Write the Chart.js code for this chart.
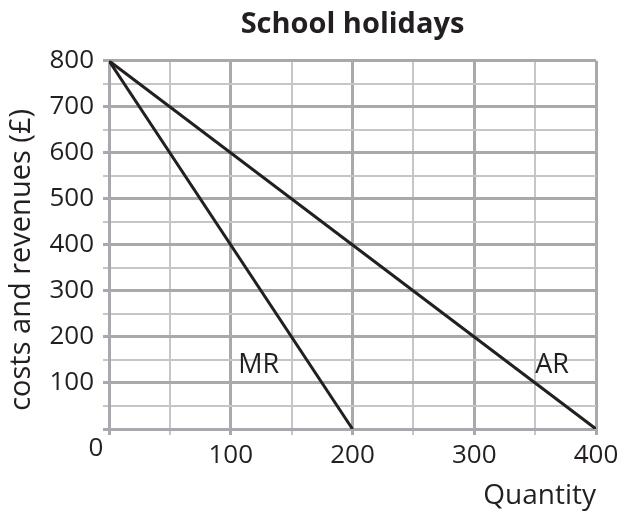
<!DOCTYPE html>
<html>
<head>
<meta charset="utf-8">
<script src="https://cdn.jsdelivr.net/npm/chart.js@4"></script>
<style>
  html, body { margin: 0; padding: 0; background: #fff; }
  #wrap { width: 624px; height: 517px; }
</style>
</head>
<body>
<div id="wrap"><canvas id="chart" width="624" height="517"></canvas></div>
<script>
// data
const quantity = [0, 400];
const arValues = [800, 0];
const mrQuantity = [0, 200];
const mrValues = [800, 0];

const curveNames = ['MR', 'AR'];
const curveNameX = [123, 364];
const curveNameY = [138, 138];

const yTitle = 'costs and revenues (£)';

const FONT = "'Open Sans', 'Noto Sans', sans-serif";
const INK = '#231f20';
const MAJOR = '#a7a9ac';
const MINOR = '#c4c6c8';

const isMajor = v => v % 100 === 0;
const tickLabel = v => (isMajor(v) && v !== 0) ? v : '';

// extra text: curve names, the corner zero and the y axis title
const textPlugin = {
    id: 'curveText',
    afterDatasetsDraw(chart) {
        const { ctx, scales, chartArea } = chart;
        ctx.save();
        ctx.fillStyle = INK;
        ctx.textAlign = 'center';
        ctx.textBaseline = 'middle';
        ctx.font = '27px ' + FONT;
        curveNames.forEach((name, i) => {
            ctx.fillText(name, scales.x.getPixelForValue(curveNameX[i]), scales.y.getPixelForValue(curveNameY[i]));
        });
        ctx.font = '26px ' + FONT;
        ctx.fillText('0', chartArea.left - 13, chartArea.bottom + 20);

        // y title sits a little below the middle of the axis
        ctx.font = '29px ' + FONT;
        ctx.translate(22, (chartArea.top + chartArea.bottom) / 2 + 15);
        ctx.rotate(-Math.PI / 2);
        ctx.fillText(yTitle, 0, 0);
        ctx.restore();
    }
};

const ctx = document.getElementById('chart').getContext('2d');
const chart = new Chart(ctx, {
    type: 'scatter',
    data: {
        datasets: [{
                label: 'AR',
                data: quantity.map((q, i) => ({ x: q, y: arValues[i] })),
                showLine: true,
                borderColor: INK,
                borderWidth: 3,
                pointRadius: 0
            },
            {
                label: 'MR',
                data: mrQuantity.map((q, i) => ({ x: q, y: mrValues[i] })),
                showLine: true,
                borderColor: INK,
                borderWidth: 3,
                pointRadius: 0
            }
        ]
    },
    options: {
        responsive: false,
        animation: false,
        layout: { padding: { left: 0, right: 28, top: 0, bottom: 0 } },
        plugins: {
            legend: { display: false },
            tooltip: { enabled: false },
            title: {
                display: true,
                text: 'School holidays',
                fullSize: false,
                color: INK,
                font: { family: FONT, size: 29, weight: 'bold' },
                padding: { top: 7, bottom: 19 }
            }
        },
        scales: {
            x: {
                type: 'linear',
                min: 0,
                max: 400,
                afterFit: s => { s.height = 88; },
                ticks: {
                    stepSize: 50,
                    autoSkip: false,
                    maxRotation: 0,
                    padding: 5,
                    color: INK,
                    font: { family: FONT, size: 26 },
                    callback: tickLabel
                },
                grid: {
                    color: c => isMajor(c.tick.value) ? MAJOR : MINOR,
                    lineWidth: c => isMajor(c.tick.value) ? 3 : 2,
                    tickLength: 6
                },
                border: { color: MAJOR, width: 3 },
                title: {
                    display: true,
                    text: 'Quantity',
                    align: 'end',
                    color: INK,
                    font: { family: FONT, size: 28 },
                    padding: { top: 0, bottom: 4 }
                }
            },
            y: {
                type: 'linear',
                min: 0,
                max: 800,
                afterFit: s => { s.width = 109; },
                ticks: {
                    stepSize: 50,
                    autoSkip: false,
                    padding: 9,
                    color: INK,
                    font: { family: FONT, size: 26 },
                    callback: tickLabel
                },
                grid: {
                    color: c => isMajor(c.tick.value) ? MAJOR : MINOR,
                    lineWidth: c => isMajor(c.tick.value) ? 3 : 2,
                    tickLength: 6
                },
                border: { color: MAJOR, width: 3 },
                title: { display: false }
            }
        }
    },
    plugins: [textPlugin]
});
</script>
</body>
</html>
